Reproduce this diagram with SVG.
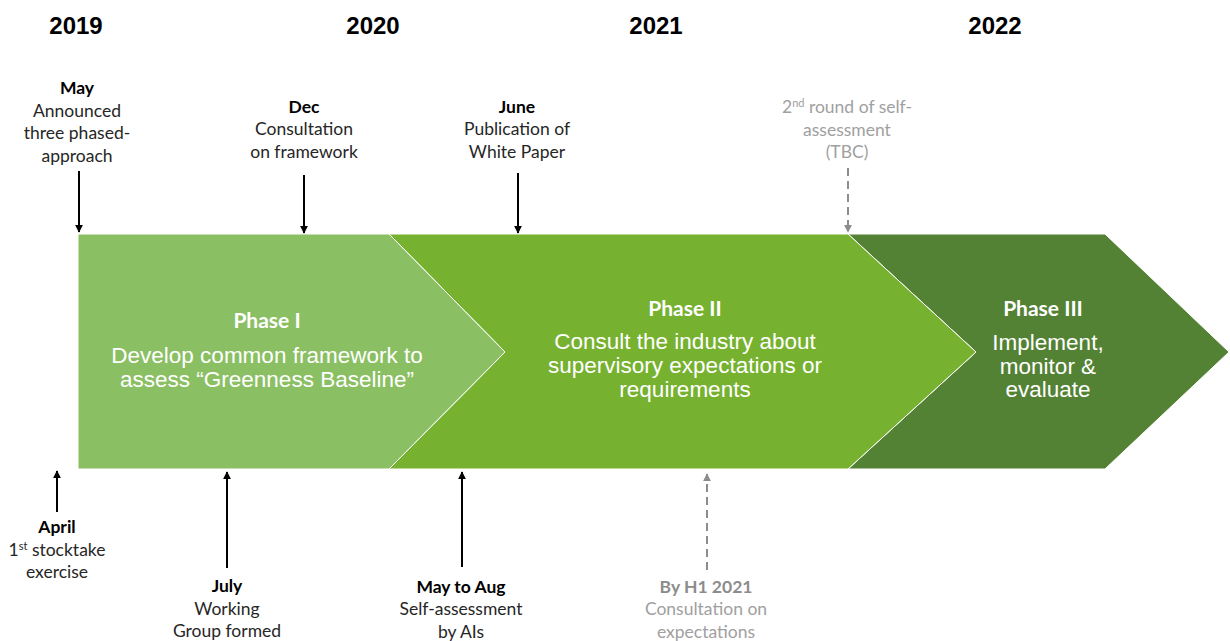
<svg xmlns="http://www.w3.org/2000/svg" width="1230" height="641" viewBox="0 0 1230 641">
  <style>
    .year { font-family: "Liberation Sans", Arial, sans-serif; font-weight: bold; font-size: 24px; fill: #000; text-anchor: middle; }
    .note { font-family: Lato, "Noto Sans", sans-serif; font-size: 17.5px; fill: #262626; text-anchor: middle; }
    .note .b { font-weight: bold; fill: #000; }
    .tbc { fill: #a0a0a0; }
    .tbc .b { fill: #8c8c8c; }
    .ptitle { font-family: Lato, "Noto Sans", sans-serif; font-weight: bold; font-size: 21px; fill: #fff; text-anchor: middle; }
    .pbody { font-family: "Liberation Sans", Arial, sans-serif; font-size: 22.5px; fill: #fff; text-anchor: middle; }
    .shape { stroke: #fff; stroke-width: 1; }
    .arrow { stroke: #000; stroke-width: 2; fill: none; }
    .dash { stroke: #8c8c8c; stroke-width: 2; stroke-dasharray: 8 5; fill: none; }
    .sup { font-size: 11px; }
  </style>
  <defs>
    <marker id="head" viewBox="0 0 10 10" refX="9" refY="5" markerWidth="4" markerHeight="4" orient="auto" markerUnits="strokeWidth">
      <path d="M0,0 L10,5 L0,10 Z" fill="#000"/>
    </marker>
    <marker id="headGray" viewBox="0 0 10 10" refX="9" refY="5" markerWidth="4" markerHeight="4" orient="auto" markerUnits="strokeWidth">
      <path d="M0,0 L10,5 L0,10 Z" fill="#8c8c8c"/>
    </marker>
  </defs>

  <rect width="1230" height="641" fill="#fff"/>

  <!-- year axis -->
  <g id="years">
    <text class="year" x="76" y="34">2019</text>
    <text class="year" x="373" y="34">2020</text>
    <text class="year" x="656" y="34">2021</text>
    <text class="year" x="995" y="34">2022</text>
  </g>

  <!-- phase chevrons -->
  <g id="phase3">
    <polygon class="shape" fill="#548235" points="848,234 1105,234 1229,352 1105,469 848,469 976,352"/>
    <text class="ptitle" x="1043" y="316">Phase III</text>
    <text class="pbody" x="1048" y="350">Implement,</text>
    <text class="pbody" x="1048" y="374">monitor &amp;</text>
    <text class="pbody" x="1048" y="397">evaluate</text>
  </g>
  <g id="phase2">
    <polygon class="shape" fill="#76b130" points="389,234 848,234 976,352 848,469 389,469 505,352"/>
    <text class="ptitle" x="685" y="316">Phase II</text>
    <text class="pbody" x="685" y="349">Consult the industry about</text>
    <text class="pbody" x="685" y="373">supervisory expectations or</text>
    <text class="pbody" x="685" y="397">requirements</text>
  </g>
  <g id="phase1">
    <polygon class="shape" fill="#8bbf63" points="78,234 389,234 505,352 389,469 78,469"/>
    <text class="ptitle" x="267" y="328">Phase I</text>
    <text class="pbody" x="267" y="363">Develop common framework to</text>
    <text class="pbody" x="267" y="387">assess “Greenness Baseline”</text>
  </g>

  <!-- milestone connectors -->
  <g id="connectors">
    <line class="arrow" x1="79" y1="171" x2="79" y2="232" marker-end="url(#head)"/>
    <line class="arrow" x1="304" y1="175" x2="304" y2="233" marker-end="url(#head)"/>
    <line class="arrow" x1="518" y1="173" x2="518" y2="233" marker-end="url(#head)"/>
    <line class="dash" x1="848" y1="168" x2="848" y2="232" marker-end="url(#headGray)"/>
    <line class="arrow" x1="57" y1="512" x2="57" y2="471" marker-end="url(#head)"/>
    <line class="arrow" x1="227" y1="568" x2="227" y2="472" marker-end="url(#head)"/>
    <line class="arrow" x1="462" y1="567" x2="462" y2="472" marker-end="url(#head)"/>
    <line class="dash" x1="707" y1="570" x2="707" y2="474" marker-end="url(#headGray)"/>
  </g>

  <!-- milestones above the bar -->
  <g id="m-may2019">
    <text class="note" x="77" y="94"><tspan class="b">May</tspan></text>
    <text class="note" x="77" y="116.5">Announced</text>
    <text class="note" x="77" y="139">three phased-</text>
    <text class="note" x="77" y="161.5">approach</text>
  </g>
  <g id="m-dec2019">
    <text class="note" x="304" y="112.5"><tspan class="b">Dec</tspan></text>
    <text class="note" x="304" y="135">Consultation</text>
    <text class="note" x="304" y="157.5">on framework</text>
  </g>
  <g id="m-jun2020">
    <text class="note" x="517" y="112.5"><tspan class="b">June</tspan></text>
    <text class="note" x="517" y="135">Publication of</text>
    <text class="note" x="517" y="157.5">White Paper</text>
  </g>
  <g id="m-round2">
    <text class="note tbc" x="847" y="113">2<tspan class="sup" dy="-6">nd</tspan><tspan dy="6"> round of self-</tspan></text>
    <text class="note tbc" x="847" y="135.5">assessment</text>
    <text class="note tbc" x="847" y="158">(TBC)</text>
  </g>

  <!-- milestones below the bar -->
  <g id="m-apr2019">
    <text class="note" x="57" y="533"><tspan class="b">April</tspan></text>
    <text class="note" x="57" y="555.5">1<tspan class="sup" dy="-6">st</tspan><tspan dy="6"> stocktake</tspan></text>
    <text class="note" x="57" y="578">exercise</text>
  </g>
  <g id="m-jul2019">
    <text class="note" x="227" y="592"><tspan class="b">July</tspan></text>
    <text class="note" x="227" y="614.5">Working</text>
    <text class="note" x="227" y="637">Group formed</text>
  </g>
  <g id="m-may2020">
    <text class="note" x="461" y="592.5"><tspan class="b">May to Aug</tspan></text>
    <text class="note" x="461" y="615">Self-assessment</text>
    <text class="note" x="461" y="637.5">by AIs</text>
  </g>
  <g id="m-h12021">
    <text class="note tbc" x="706" y="593"><tspan class="b">By H1 2021</tspan></text>
    <text class="note tbc" x="706" y="615">Consultation on</text>
    <text class="note tbc" x="706" y="637.5">expectations</text>
  </g>
</svg>
